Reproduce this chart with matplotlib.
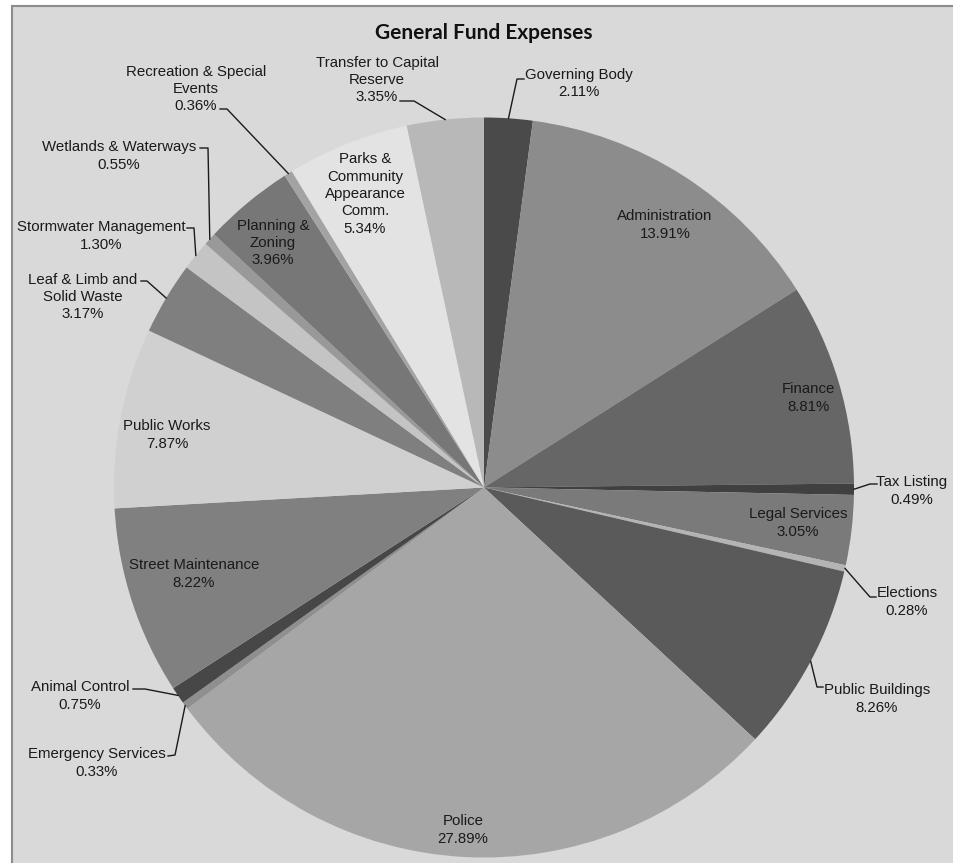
import matplotlib
matplotlib.use("Agg")
import matplotlib.pyplot as plt
from matplotlib.patches import Rectangle
import numpy as np

# ---- data -------------------------------------------------------------
categories = [
    "Governing Body", "Administration", "Finance", "Tax Listing",
    "Legal Services", "Elections", "Public Buildings", "Police",
    "Emergency Services", "Animal Control", "Street Maintenance",
    "Public Works", "Leaf & Limb and\nSolid Waste", "Stormwater Management",
    "Wetlands & Waterways", "Planning &\nZoning", "Recreation & Special\nEvents",
    "Parks &\nCommunity\nAppearance\nComm.", "Transfer to Capital\nReserve",
]
shares = [2.11, 13.91, 8.81, 0.49, 3.05, 0.28, 8.26, 27.89, 0.33, 0.75,
          8.22, 7.87, 3.17, 1.30, 0.55, 3.96, 0.36, 5.34, 3.35]
colors = ["#4a4a4a", "#8c8c8c", "#666666", "#404040", "#7a7a7a", "#b4b4b4",
          "#5a5a5a", "#a6a6a6", "#8f8f8f", "#474747", "#808080", "#d0d0d0",
          "#7f7f7f", "#c4c4c4", "#999999", "#777777", "#a3a3a3", "#e3e3e3",
          "#b8b8b8"]
title = "General Fund Expenses"

# ---- layout (pixel space of the 954x863 canvas) -----------------------
W, H = 954, 863
CX, CY, R = 484, 487.5, 370

# label block centres and leader elbows
label_pos = [
    (579, 83.5), (665, 225), (808, 398), (912, 491), (798, 523),
    (907, 602), (877, 699), (463, 830), (97, 763), (80, 696),
    (194, 574), (167, 435), (83, 297), (101, 236), (119, 156),
    (273, 243), (196, 89), (365, 194), (377, 80),
]
leaders = {
    0: [(517, 79), (524, 79)],
    3: [(870, 484), (877, 484)],
    5: [(870, 597), (876, 597)],
    6: [(817, 687), (823, 687)],
    8: [(175, 755), (168, 756)],
    9: [(145, 689), (133, 689)],
    12: [(147, 281), (141, 281)],
    13: [(194, 228), (187, 228)],
    14: [(208, 148), (200, 148)],
    16: [(227, 109), (220, 109)],
    18: [(414, 101), (400, 101)],
}


def to_data(x, y):
    return (x - CX) / R, (CY - y) / R


plt.rcParams["font.family"] = ["Liberation Sans", "DejaVu Sans"]

fig = plt.figure(figsize=(W / 100, H / 100), dpi=100)
fig.patch.set_facecolor("white")
fig.add_artist(Rectangle((12 / W, -0.01), 1.02, (H - 6) / H + 0.01,
                         transform=fig.transFigure, facecolor="#d9d9d9",
                         edgecolor="#8c8c8c", linewidth=1.5, zorder=0))

ax = fig.add_axes([0, 0, 1, 1])
ax.patch.set_alpha(0)
wedges, _ = ax.pie(shares, colors=colors, startangle=90, counterclock=False,
                   radius=1, center=(0, 0),
                   wedgeprops=dict(linewidth=0, antialiased=True))
ax.set_xlim(-CX / R, (W - CX) / R)
ax.set_ylim(-(H - CY) / R, CY / R)
ax.set_aspect("equal")
ax.axis("off")

for i, (name, val) in enumerate(zip(categories, shares)):
    lx, ly = to_data(*label_pos[i])
    ax.text(lx, ly, f"{name}\n{val:.2f}%", ha="center", va="center",
            fontsize=10.8, color="#1a1a1a", linespacing=1.3, zorder=5)
    if i in leaders:
        w = wedges[i]
        mid = np.deg2rad((w.theta1 + w.theta2) / 2)
        pts = [(np.cos(mid), np.sin(mid))] + [to_data(*p) for p in leaders[i]]
        xs, ys = zip(*pts)
        ax.plot(xs, ys, color="#1a1a1a", linewidth=1.0, zorder=4)

fig.text(484 / W, 1 - 33 / H, title, ha="center", va="center",
         fontsize=15, fontweight="bold", family=["Lato", "DejaVu Sans"],
         color="#111111")

fig.savefig("out.png", dpi=100)
